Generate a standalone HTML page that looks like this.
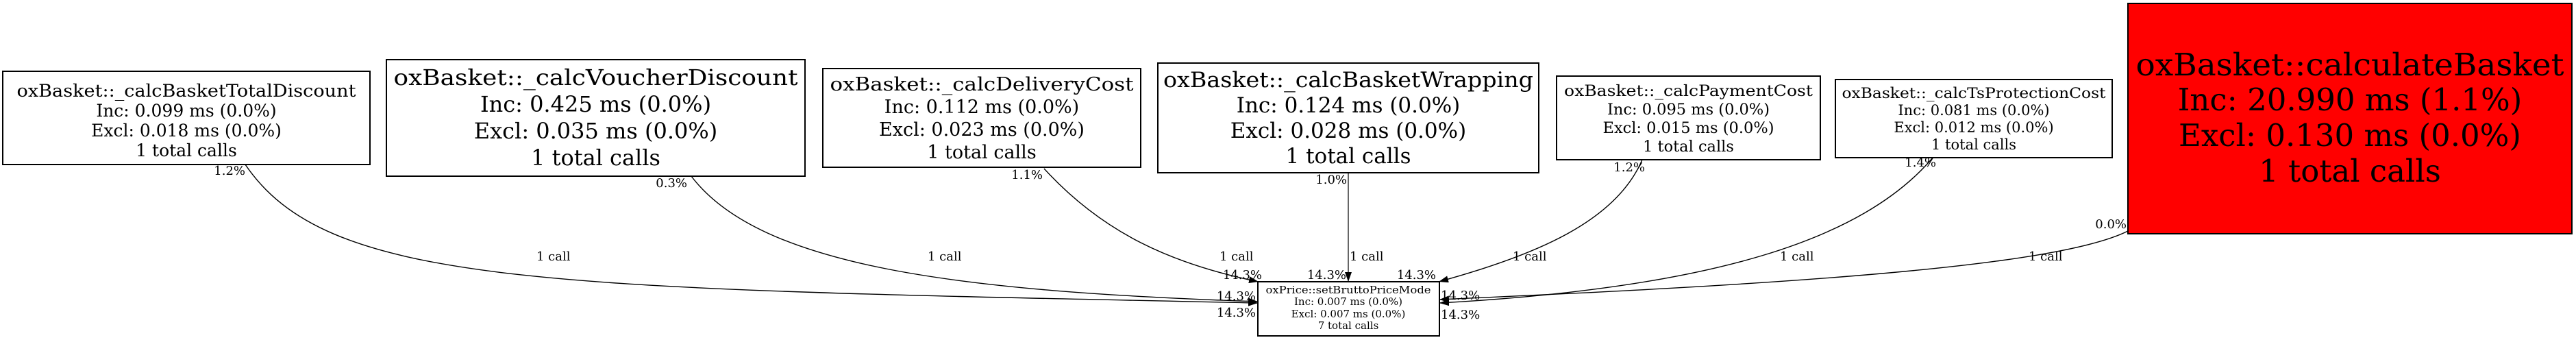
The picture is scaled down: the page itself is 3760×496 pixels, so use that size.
<!DOCTYPE html>
<html><head><meta charset="utf-8"><style>
html,body{margin:0;padding:0;background:#fff;}
svg{display:block;}
text{font-family:"DejaVu Serif","Liberation Serif",serif;fill:#000;}
.e{font-size:18px;}
</style></head><body>
<svg width="3760" height="496" viewBox="0 0 3760 496" xmlns="http://www.w3.org/2000/svg">
<defs>
<marker id="a" markerWidth="14" markerHeight="10" refX="14" refY="5" orient="auto" markerUnits="userSpaceOnUse">
<path d="M0,0 L14,5 L0,10 Z" fill="#000"/>
</marker>
</defs>
<g fill="none" stroke="#000" stroke-width="1.4" marker-end="url(#a)">
<path d="M358,240 C480,420 800,420 1836,442"/>
<path d="M1009,257 C1110,390 1400,425 1836,440"/>
<path d="M1524,246 C1610,340 1710,385 1837,411"/>
<path d="M1968,253 L1968,411" stroke-width="1.2"/>
<path d="M2397,233 C2360,320 2250,370 2100,411"/>
<path d="M2822,229 C2720,350 2500,420 2101,442"/>
<path d="M3106,337 C3000,390 2600,415 2101,437"/>
</g>
<g stroke="#000" stroke-width="2">
<rect x="4" y="104" width="536" height="136" fill="#fff"/>
<rect x="564" y="87" width="611" height="170" fill="#fff"/>
<rect x="1201" y="100" width="464" height="144" fill="#fff"/>
<rect x="1690" y="92" width="556" height="160" fill="#fff"/>
<rect x="2272" y="111" width="385" height="122" fill="#fff"/>
<rect x="2679" y="116" width="404" height="114" fill="#fff"/>
<rect x="3106" y="5" width="648" height="336" fill="#ff0000"/>
<rect x="1836" y="411" width="265" height="79" fill="#fff"/>
</g>
<g text-anchor="middle">
<g style="font-size:25px">
<text x="272" y="141" textLength="495" lengthAdjust="spacingAndGlyphs">oxBasket::_calcBasketTotalDiscount</text>
<text x="272" y="170">Inc: 0.099 ms (0.0%)</text>
<text x="272" y="199">Excl: 0.018 ms (0.0%)</text>
<text x="272" y="228">1 total calls</text>
</g>
<g style="font-size:32px">
<text x="869.5" y="124" textLength="590" lengthAdjust="spacingAndGlyphs">oxBasket::_calcVoucherDiscount</text>
<text x="869.5" y="163">Inc: 0.425 ms (0.0%)</text>
<text x="869.5" y="202">Excl: 0.035 ms (0.0%)</text>
<text x="869.5" y="241">1 total calls</text>
</g>
<g style="font-size:27px">
<text x="1433" y="132" textLength="443" lengthAdjust="spacingAndGlyphs">oxBasket::_calcDeliveryCost</text>
<text x="1433" y="165">Inc: 0.112 ms (0.0%)</text>
<text x="1433" y="198">Excl: 0.023 ms (0.0%)</text>
<text x="1433" y="231">1 total calls</text>
</g>
<g style="font-size:31px">
<text x="1968" y="127" textLength="540" lengthAdjust="spacingAndGlyphs">oxBasket::_calcBasketWrapping</text>
<text x="1968" y="164">Inc: 0.124 ms (0.0%)</text>
<text x="1968" y="201">Excl: 0.028 ms (0.0%)</text>
<text x="1968" y="238">1 total calls</text>
</g>
<g style="font-size:22.5px">
<text x="2464.5" y="140" textLength="363" lengthAdjust="spacingAndGlyphs">oxBasket::_calcPaymentCost</text>
<text x="2464.5" y="167">Inc: 0.095 ms (0.0%)</text>
<text x="2464.5" y="194">Excl: 0.015 ms (0.0%)</text>
<text x="2464.5" y="221">1 total calls</text>
</g>
<g style="font-size:21px">
<text x="2881" y="143" textLength="385" lengthAdjust="spacingAndGlyphs">oxBasket::_calcTsProtectionCost</text>
<text x="2881" y="168">Inc: 0.081 ms (0.0%)</text>
<text x="2881" y="193">Excl: 0.012 ms (0.0%)</text>
<text x="2881" y="218">1 total calls</text>
</g>
<g style="font-size:45px">
<text x="3430" y="110" textLength="625" lengthAdjust="spacingAndGlyphs">oxBasket::calculateBasket</text>
<text x="3430" y="161">Inc: 20.990 ms (1.1%)</text>
<text x="3430" y="213">Excl: 0.130 ms (0.0%)</text>
<text x="3430" y="265">1 total calls</text>
</g>
<g style="font-size:15px">
<text x="1968" y="428" textLength="241" lengthAdjust="spacingAndGlyphs">oxPrice::setBruttoPriceMode</text>
<text x="1968" y="445">Inc: 0.007 ms (0.0%)</text>
<text x="1968" y="463">Excl: 0.007 ms (0.0%)</text>
<text x="1968" y="480">7 total calls</text>
</g>
</g>
<g class="e" text-anchor="end">
<text x="358" y="255">1.2%</text>
<text x="1003" y="273">0.3%</text>
<text x="1522" y="261">1.1%</text>
<text x="1966" y="268">1.0%</text>
<text x="2401" y="250">1.2%</text>
<text x="2826" y="243">1.4%</text>
<text x="3104" y="333">0.0%</text>
<text x="1842" y="407">14.3%</text>
<text x="1965" y="407">14.3%</text>
<text x="2096" y="407">14.3%</text>
<text x="1833" y="438">14.3%</text>
<text x="1833" y="462">14.3%</text>
</g>
<g class="e">
<text x="783" y="380">1 call</text>
<text x="1354" y="380">1 call</text>
<text x="1780" y="380">1 call</text>
<text x="1970" y="380">1 call</text>
<text x="2208" y="380">1 call</text>
<text x="2598" y="380">1 call</text>
<text x="2961" y="380">1 call</text>
<text x="2103" y="437">14.3%</text>
<text x="2103" y="465">14.3%</text>
</g>
</svg>
</body></html>
